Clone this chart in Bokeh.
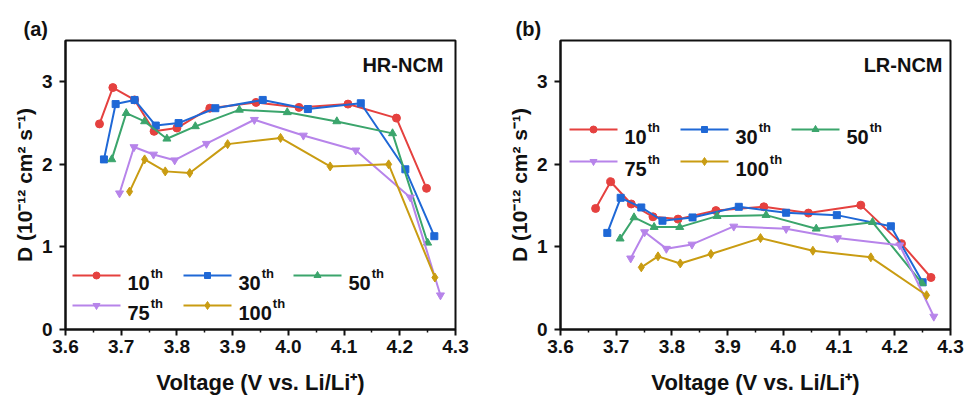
import numpy as np
from bokeh.plotting import figure
from bokeh.layouts import row
from bokeh.models import Label, Range1d, FixedTicker, NumeralTickFormatter
from bokeh.embed import file_html
from bokeh.resources import INLINE

# ---- Li-ion diffusion coefficient D (1e-12 cm^2/s) vs. voltage ----
cycles = ["10", "30", "50", "75", "100"]

# (a) HR-NCM
hr_v10 = [3.661, 3.685, 3.724, 3.759, 3.800, 3.859, 3.942, 4.019, 4.107, 4.194, 4.248]
hr_d10 = [2.49, 2.93, 2.78, 2.40, 2.44, 2.68, 2.75, 2.69, 2.73, 2.56, 1.71]
hr_v30 = [3.669, 3.690, 3.724, 3.762, 3.803, 3.869, 3.954, 4.035, 4.130, 4.210, 4.262]
hr_d30 = [2.06, 2.73, 2.78, 2.47, 2.50, 2.68, 2.78, 2.67, 2.74, 1.94, 1.13]
hr_v50 = [3.683, 3.709, 3.742, 3.782, 3.833, 3.912, 3.998, 4.087, 4.187, 4.250]
hr_d50 = [2.06, 2.62, 2.52, 2.31, 2.46, 2.66, 2.63, 2.52, 2.375, 1.05]
hr_v75 = [3.697, 3.723, 3.758, 3.796, 3.853, 3.939, 4.027, 4.121, 4.219, 4.273]
hr_d75 = [1.65, 2.21, 2.12, 2.05, 2.25, 2.54, 2.35, 2.17, 1.60, 0.415]
hr_v100 = [3.715, 3.742, 3.779, 3.823, 3.891, 3.986, 4.075, 4.180, 4.263]
hr_d100 = [1.67, 2.06, 1.915, 1.895, 2.245, 2.32, 1.975, 2.00, 0.63]

# (b) LR-NCM
lr_v10 = [3.663, 3.690, 3.727, 3.766, 3.811, 3.879, 3.965, 4.045, 4.139, 4.212, 4.265]
lr_d10 = [1.466, 1.79, 1.52, 1.365, 1.337, 1.44, 1.486, 1.41, 1.506, 1.04, 0.63]
lr_v30 = [3.684, 3.708, 3.745, 3.783, 3.837, 3.920, 4.005, 4.096, 4.193, 4.250]
lr_d30 = [1.17, 1.595, 1.478, 1.317, 1.357, 1.486, 1.414, 1.385, 1.25, 0.572]
lr_v50 = [3.707, 3.732, 3.768, 3.814, 3.881, 3.969, 4.059, 4.160, 4.249]
lr_d50 = [1.10, 1.357, 1.24, 1.24, 1.373, 1.385, 1.22, 1.30, 0.56]
lr_v75 = [3.726, 3.751, 3.790, 3.836, 3.911, 4.005, 4.097, 4.209, 4.270]
lr_d75 = [0.862, 1.18, 0.979, 1.03, 1.248, 1.22, 1.107, 1.02, 0.157]
lr_v100 = [3.745, 3.775, 3.815, 3.870, 3.959, 4.053, 4.157, 4.257]
lr_d100 = [0.753, 0.886, 0.80, 0.914, 1.107, 0.954, 0.874, 0.415]

x_ticks = [3.6, 3.7, 3.8, 3.9, 4.0, 4.1, 4.2, 4.3]
y_ticks = [0, 1, 2, 3]
x_title = "Voltage (V vs. Li/Li\u207a)"
y_title = "D (10\u207b\u00b9\u00b2 cm\u00b2 s\u207b\u00b9)"

colors = ["#e5413f", "#1f68d6", "#3ba56c", "#b784ea", "#c99c12"]
markers = ["circle", "square", "triangle", "inverted_triangle", "diamond"]
msizes = [8, 7, 8, 8, 9]
leg_msizes = [7, 6, 7, 7, 8]

FONT = "Liberation Sans"
INK = "#111111"
X0, X1, Y0, Y1 = 3.6, 4.3, 0.0, 3.5
FW, FH = 390, 289  # frame size in px


def tw(s, size):
    # digits of the bold sans face are 0.556 em wide
    return len(s) * 0.556 * size


def fx(dx):
    """frame-relative pixel offset (from left) -> data x"""
    return X0 + dx * (X1 - X0) / FW


def fy(dy):
    """frame-relative pixel offset (from top) -> data y"""
    return Y1 - dy * (Y1 - Y0) / FH


def put(p, text, dx, dy, size, align="left", xo=0, yo=0):
    p.add_layout(Label(x=fx(dx), y=fy(dy), x_offset=xo, y_offset=yo, text=text,
                       text_font=FONT, text_font_style="bold",
                       text_font_size=f"{size}px", text_color=INK,
                       text_align=align, text_baseline="alphabetic"))


def make_panel(tag, name, vs, ds, width, left, right, tag_off, name_dx,
               leg_cols, leg_rows):
    p = figure(width=width, height=404, title=tag,
               x_range=Range1d(X0, X1), y_range=Range1d(Y0, Y1),
               output_backend="svg", toolbar_location=None,
               min_border_left=left, min_border_right=right,
               min_border_top=40, min_border_bottom=75)
    p.background_fill_color = "white"
    p.border_fill_color = "white"
    p.xgrid.visible = False
    p.ygrid.visible = False
    p.outline_line_color = INK
    p.outline_line_width = 2

    p.title.align = "left"
    p.title.offset = tag_off
    p.title.standoff = 2
    p.title.text_font = FONT
    p.title.text_font_style = "bold"
    p.title.text_font_size = "20px"
    p.title.text_color = INK

    for ax in (p.xaxis[0], p.yaxis[0]):
        ax.axis_line_width = 2
        ax.axis_line_color = INK
        ax.major_tick_line_width = 2
        ax.major_tick_line_color = INK
        ax.major_tick_out = 6
        ax.major_tick_in = 0
        ax.minor_tick_line_width = 1.5
        ax.minor_tick_line_color = INK
        ax.minor_tick_out = 3
        ax.minor_tick_in = 0
        ax.major_label_text_font = FONT
        ax.major_label_text_font_style = "bold"
        ax.major_label_text_font_size = "19px"
        ax.major_label_text_color = INK
        ax.axis_label_text_font = FONT
        ax.axis_label_text_font_style = "bold"
        ax.axis_label_text_color = INK
    p.xaxis.ticker = FixedTicker(ticks=x_ticks,
                                 minor_ticks=[t + 0.05 for t in x_ticks[:-1]])
    p.xaxis.formatter = NumeralTickFormatter(format="0.0")
    p.xaxis.major_label_standoff = 4
    p.xaxis.axis_label = x_title
    p.xaxis.axis_label_text_font_size = "22px"
    p.xaxis.axis_label_standoff = 14
    p.yaxis.ticker = FixedTicker(ticks=y_ticks)
    p.yaxis.minor_tick_line_color = None
    p.yaxis.major_label_standoff = 7
    p.yaxis.axis_label = y_title
    p.yaxis.axis_label_text_font_size = "21px"
    p.yaxis.axis_label_standoff = 3

    # data series
    for i in range(len(cycles)):
        p.line(vs[i], ds[i], line_color=colors[i], line_width=2)
        p.scatter(vs[i], ds[i], marker=markers[i], size=msizes[i],
                  fill_color=colors[i], line_color=colors[i])

    # legend, drawn as line + marker + label with superscript
    for i, c in enumerate(cycles):
        r, col = divmod(i, 3)
        dx0 = leg_cols[col]
        dy = leg_rows[r]
        p.line([fx(dx0), fx(dx0 + 48)], [fy(dy), fy(dy)],
               line_color=colors[i], line_width=2)
        p.scatter([fx(dx0 + 24)], [fy(dy)], marker=markers[i],
                  size=leg_msizes[i], fill_color=colors[i], line_color=colors[i])
        put(p, c, dx0 + 55, dy, 20, yo=-7)
        put(p, "th", dx0 + 55, dy, 13, xo=tw(c, 20) + 1, yo=2)

    # sample name
    put(p, name, name_dx, 24, 20, align="right")
    return p


pa = make_panel("(a)", "HR-NCM",
                [hr_v10, hr_v30, hr_v50, hr_v75, hr_v100],
                [hr_d10, hr_d30, hr_d50, hr_d75, hr_d100],
                width=483, left=65, right=28, tag_off=-42, name_dx=378,
                leg_cols=[7, 118, 228], leg_rows=[235, 265])
pb = make_panel("(b)", "LR-NCM",
                [lr_v10, lr_v30, lr_v50, lr_v75, lr_v100],
                [lr_d10, lr_d30, lr_d50, lr_d75, lr_d100],
                width=484, left=77, right=17, tag_off=-45, name_dx=382,
                leg_cols=[9, 120, 231], leg_rows=[89, 121])

layout = row(pa, pb, spacing=0)
open("out.html", "w").write(file_html(layout, INLINE))
